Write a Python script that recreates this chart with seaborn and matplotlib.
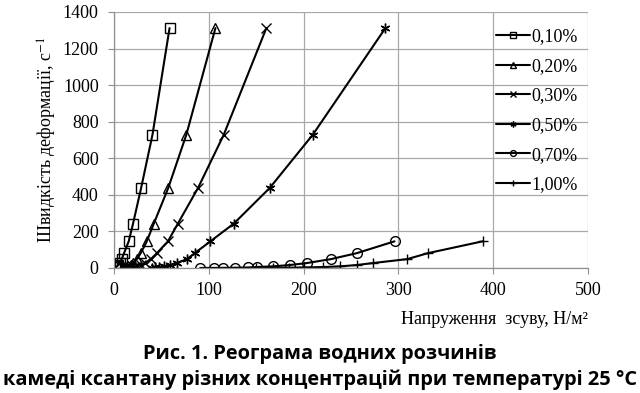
import numpy as np
import pandas as pd
import seaborn as sns
import matplotlib
matplotlib.use("Agg")
import matplotlib.pyplot as plt

# shear rate values (s^-1) used by the rheometer
rates = [1312, 729, 437.4, 243, 145.8, 81, 48.6, 27, 16.2, 9, 5.4, 3, 1.8, 1, 0.6, 0.33]

labels = ["0,10%", "0,20%", "0,30%", "0,50%", "0,70%", "1,00%"]

# shear stress (N/m2), paired with rates from the top
tau_010 = [58.6, 40.6, 28.6, 20.1, 15.5, 10.6, 8.1, 6.0, 4.5, 3.0, 2.0, 1.2]
tau_020 = [107, 76.3, 57.2, 42, 34.6, 28.2, 24, 20.5, 17.5, 14.5, 12, 10]
tau_030 = [160.7, 115.8, 88.6, 67.4, 56.9, 45.2, 38.8, 33, 28.5, 24.5, 21, 18]
tau_050 = [286.3, 209.7, 164.2, 126.4, 101.7, 85.1, 77, 66, 59, 53, 47, 43, 40]
# these two start at 145.8
tau_070 = [295.9, 256, 228.8, 203.4, 185.4, 167.7, 150.4, 141.6, 128, 115, 106, 91]
tau_100 = [388.8, 331, 309.3, 273, 256, 238.7, 220.5, 200.6, 185, 168, 150]

taus = [tau_010, tau_020, tau_030, tau_050, tau_070, tau_100]
starts = [0, 0, 0, 0, 4, 4]
markers = ["s", "^", "x", (6, 2, 0), "o", "+"]

sns.set_style("white")
plt.rcParams["font.family"] = ["Liberation Serif", "DejaVu Serif"]
plt.rcParams["mathtext.fontset"] = "stix"
plt.rcParams["text.color"] = "black"
plt.rcParams["axes.labelcolor"] = "black"
plt.rcParams["xtick.color"] = "black"
plt.rcParams["ytick.color"] = "black"

fig = plt.figure(figsize=(6.4, 3.93), dpi=100)
ax = fig.add_axes([114 / 640, 1 - 268 / 393, 474 / 640, 256 / 393])

for lab, t, s, m in zip(labels, taus, starts, markers):
    g = rates[s:s + len(t)]
    d = pd.DataFrame({"tau": t, "gamma": g})
    sns.lineplot(data=d, x="tau", y="gamma", ax=ax, sort=False, estimator=None,
                 color="black", lw=1.5, marker=m, ms=7, mfc="none", mec="black",
                 mew=1.0, label=lab)

ax.set_xlim(0, 500)
ax.set_ylim(0, 1400)
ax.set_xticks(range(0, 501, 100))
ax.set_yticks(range(0, 1401, 200))
ax.grid(True, color="#a8a8a8", lw=0.9)
for sp in ["top", "right"]:
    ax.spines[sp].set_visible(False)
for sp in ["left", "bottom"]:
    ax.spines[sp].set_color("#909090")
    ax.spines[sp].set_linewidth(0.9)
ax.tick_params(axis="both", which="major", labelsize=13, length=4, width=0.8,
               color="#909090", labelcolor="black", direction="out",
               bottom=True, left=True)
ax.tick_params(axis="y", pad=7)
ax.tick_params(axis="x", pad=6)

ax.set_xlabel("Напруження  зсуву, Н/м²", fontsize=13, loc="right", labelpad=9)
ax.set_ylabel("Швидкість деформації, с$^{-1}$", fontsize=13, labelpad=3)

leg = ax.legend(loc="upper left", bbox_to_anchor=(0.79, 0.965), frameon=False,
                fontsize=13, handlelength=1.9, handletextpad=0.1, labelspacing=0.7,
                markerscale=0.6, borderaxespad=0)

cap = {"family": ["Open Sans", "DejaVu Sans"], "weight": "bold", "fontsize": 14.4,
       "color": "black"}
fig.text(0.5, 1 - 354 / 393, "Рис. 1. Реограма водних розчинів", ha="center",
         va="center", **cap)
fig.text(0.5, 1 - 380 / 393, "камеді ксантану різних концентрацій при температурі 25 °C",
         ha="center", va="center", **cap)

fig.savefig("out.png", dpi=100)
